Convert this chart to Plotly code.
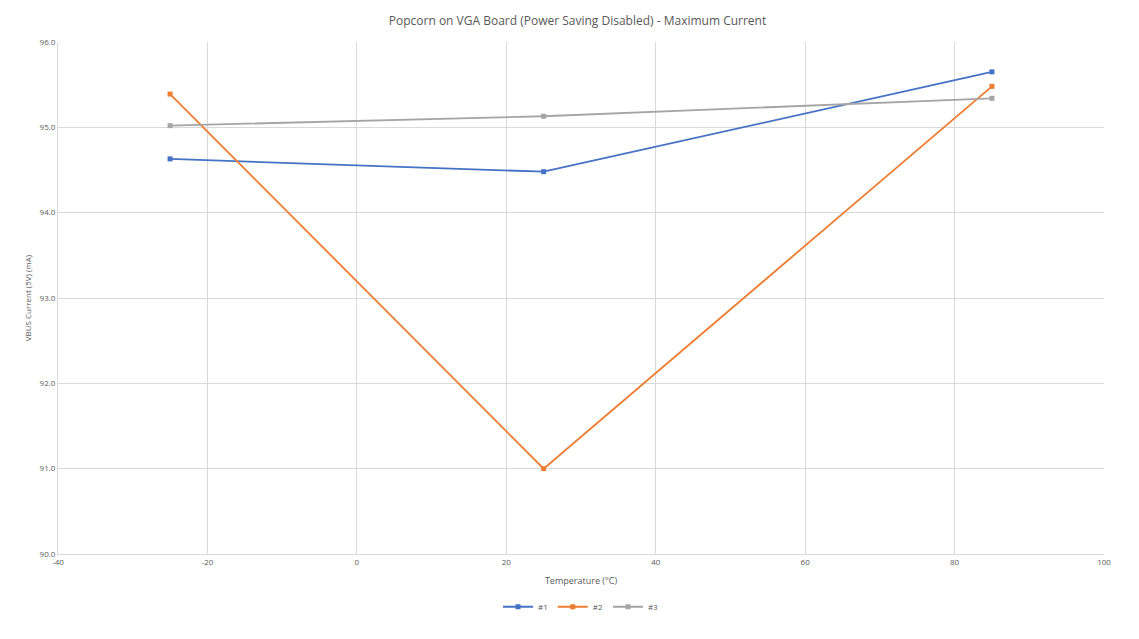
import plotly.graph_objects as go

temps = [-25, 25, 85]
s1 = [94.63, 94.48, 95.65]
s2 = [95.39, 91.0, 95.48]
s3 = [95.02, 95.13, 95.34]
names = ["#1", "#2", "#3"]
colors = ["#4472C4", "#ED7D31", "#A5A5A5"]
x_ticks = [-40, -20, 0, 20, 40, 60, 80, 100]
y_ticks = [90, 91, 92, 93, 94, 95, 96]

fig = go.Figure()
for name, ys, c in zip(names, [s1, s2, s3], colors):
    fig.add_trace(go.Scatter(
        x=temps, y=ys, name=name, mode="lines+markers",
        line=dict(color=c, width=1.8),
        marker=dict(symbol="square", size=5, color=c),
    ))

font = "Open Sans, Liberation Sans, sans-serif"
fig.update_layout(
    width=1139, height=639,
    paper_bgcolor="white", plot_bgcolor="white",
    margin=dict(l=50, r=43, t=34, b=93),
    title=dict(text="Popcorn on VGA Board (Power Saving Disabled) - Maximum Current",
               x=0.5, xanchor="center", y=0.98, yanchor="middle",
               font=dict(family=font, size=12, color="#595959")),
    font=dict(family=font, size=8, color="#595959"),
    showlegend=True,
    legend=dict(orientation="h", x=0.5, xanchor="center", y=-0.103, yanchor="middle",
                font=dict(size=8, color="#595959")),
    xaxis=dict(range=[-40, 100], tickvals=x_ticks, ticktext=[str(v) for v in x_ticks],
               showgrid=True, gridcolor="#D9D9D9", gridwidth=1,
               showline=True, linecolor="#D9D9D9", zeroline=False,
               ticks="", tickfont=dict(size=8, color="#595959"),
               title=dict(text="Temperature (°C)", font=dict(size=9, color="#595959"), standoff=12)),
    yaxis=dict(range=[90, 96], tickvals=y_ticks, ticktext=[f"{v:.1f}" for v in y_ticks],
               showgrid=True, gridcolor="#D9D9D9", gridwidth=1,
               showline=True, linecolor="#D9D9D9", zeroline=False,
               ticks="", tickfont=dict(size=8, color="#595959"),
               title=dict(text="VBUS Current (5V) (mA)", font=dict(size=8, color="#595959"), standoff=6)),
)
fig.write_html("out.html")
